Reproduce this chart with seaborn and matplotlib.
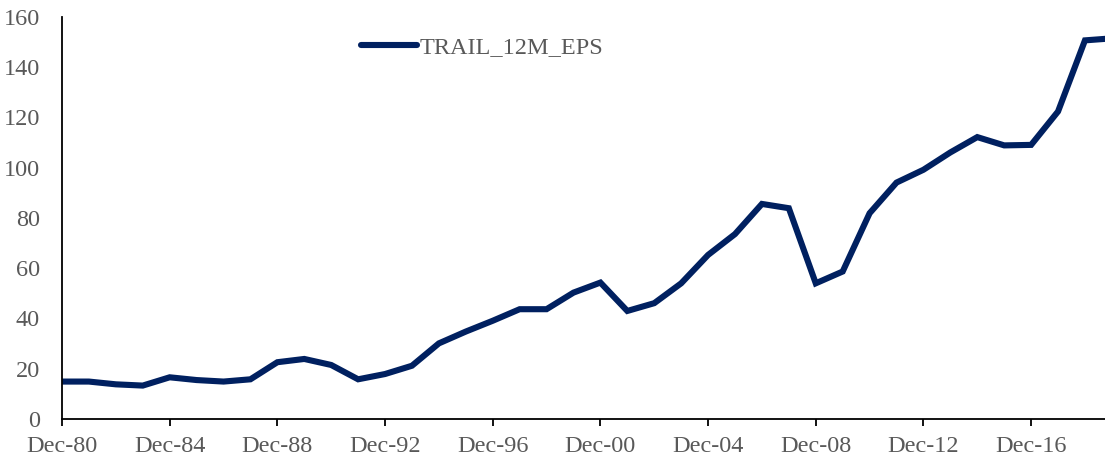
import matplotlib
matplotlib.use("Agg")
import matplotlib.pyplot as plt
import seaborn as sns
import pandas as pd

# ---------------- data ----------------
years = list(range(1980, 2020))
eps = [
    14.9, 14.9, 13.8, 13.3, 16.6, 15.5, 14.9, 15.8, 22.6, 23.9,
    21.5, 15.8, 17.9, 21.2, 30.1, 34.8, 39.1, 43.7, 43.7, 50.3,
    54.3, 43.0, 46.1, 54.0, 65.3, 73.6, 85.6, 83.9, 54.0, 58.7,
    81.9, 94.1, 99.2, 106.1, 112.2, 108.9, 109.1, 122.4, 150.7, 151.5,
]
tick_years = list(range(1980, 2017, 4))
tick_labels = [f"Dec-{y % 100:02d}" for y in tick_years]
y_ticks = list(range(0, 161, 20))

df = pd.DataFrame({"year": years, "TRAIL_12M_EPS": eps})

# ---------------- style ----------------
sns.set_theme(style="white")
plt.rcParams["font.family"] = ["Liberation Serif", "DejaVu Serif"]
TEXT_GREY = "#595959"
NAVY = "#002060"
FS = 17.5

fig = plt.figure(figsize=(11.05, 4.61), dpi=100)
ax = fig.add_axes([62 / 1105, 42 / 461, 1043 / 1105, 402 / 461])

sns.lineplot(data=df, x="year", y="TRAIL_12M_EPS", ax=ax, color=NAVY,
             linewidth=4.4, label="TRAIL_12M_EPS", solid_joinstyle="miter")

ax.set_xlim(1980, 1980 + 1043 / 26.92)
ax.set_ylim(0, 160)
ax.set_xticks(tick_years)
ax.set_xticklabels(tick_labels)
ax.set_yticks(y_ticks)
ax.set_xlabel("")
ax.set_ylabel("")

for side in ["top", "right"]:
    ax.spines[side].set_visible(False)
for side in ["left", "bottom"]:
    ax.spines[side].set_color("black")
    ax.spines[side].set_linewidth(1.3)

ax.tick_params(axis="x", which="both", direction="out", length=5, width=1.3,
               color="black", bottom=True, labelsize=FS, labelcolor=TEXT_GREY, pad=7)
ax.tick_params(axis="y", left=False, labelsize=FS, labelcolor=TEXT_GREY, pad=10)

leg = ax.legend(loc="center left", bbox_to_anchor=(0.287, 0.925), frameon=False,
                fontsize=FS, handlelength=2.3, handletextpad=0.1,
                borderpad=0, borderaxespad=0)
for t in leg.get_texts():
    t.set_color(TEXT_GREY)
for h in leg.get_lines():
    h.set_solid_capstyle("round")

fig.savefig("out.png", dpi=100)
